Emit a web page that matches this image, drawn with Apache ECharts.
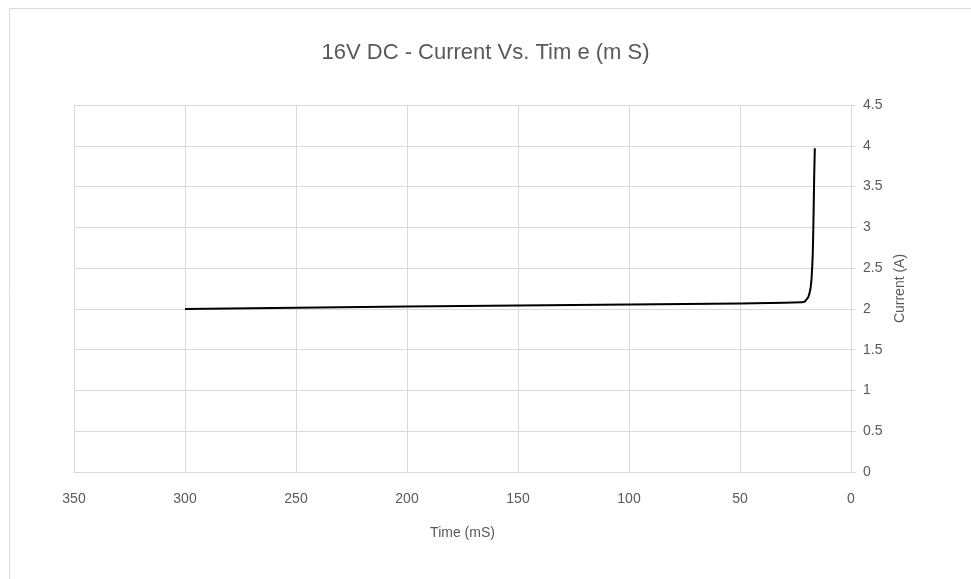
<!DOCTYPE html>
<html><head><meta charset="utf-8">
<script src="https://cdn.jsdelivr.net/npm/echarts@6/dist/echarts.min.js"></script>
<style>html,body{margin:0;padding:0;background:#fff}#c{width:971px;height:579px}</style>
</head><body><div id="c"></div>
<script>
const titleText = "16V DC - Current Vs. Tim e (m S)";
const xTitle = "Time (mS)";
const yTitle = "Current (A)";
const timeMs = [300, 200, 100, 50, 30, 22, 20.8, 20, 19.3, 18.7, 18.2, 17.8, 17.5, 17.2, 17, 16.8, 16.6, 16.3];
const currentA = [2.0, 2.03, 2.055, 2.065, 2.075, 2.08, 2.09, 2.11, 2.14, 2.19, 2.26, 2.36, 2.5, 2.7, 2.95, 3.25, 3.6, 3.97];

const FONT = "'Liberation Sans', Arial, sans-serif";
const chart = echarts.init(document.getElementById('c'), null, {renderer: 'canvas'});
chart.setOption({
  animation: false,
  backgroundColor: '#fff',
  graphic: [{type: 'rect', shape: {x: 9.5, y: 8.5, width: 1000, height: 700}, style: {fill: 'none', stroke: '#d9d9d9', lineWidth: 1}}],
  title: {text: titleText, left: 'center', top: 37, textStyle: {fontFamily: FONT, fontSize: 22, fontWeight: 'normal', color: '#595959'}},
  grid: {left: 74, right: 120, top: 105, bottom: 107},
  xAxis: {
    type: 'value', min: 0, max: 350, interval: 50, inverse: true,
    name: xTitle, nameLocation: 'middle', nameGap: 54,
    nameTextStyle: {fontFamily: FONT, fontSize: 14, color: '#595959'},
    axisLine: {show: true, lineStyle: {color: '#d9d9d9'}},
    axisTick: {show: false},
    axisLabel: {fontFamily: FONT, fontSize: 14, color: '#595959', margin: 20},
    splitLine: {show: true, lineStyle: {color: '#d9d9d9'}}
  },
  yAxis: {
    type: 'value', min: 0, max: 4.5, interval: 0.5, position: 'right',
    name: yTitle, nameLocation: 'middle', nameGap: 42, nameRotate: 90,
    nameTextStyle: {fontFamily: FONT, fontSize: 14, color: '#595959'},
    axisLine: {show: true, lineStyle: {color: '#d9d9d9'}},
    axisTick: {show: true, length: 5, lineStyle: {color: '#d9d9d9'}},
    axisLabel: {fontFamily: FONT, fontSize: 14, color: '#595959', margin: 12},
    splitLine: {show: true, lineStyle: {color: '#d9d9d9'}}
  },
  series: [{
    type: 'line', data: timeMs.map((t, i) => [t, currentA[i]]),
    showSymbol: false, smooth: false,
    lineStyle: {color: '#000', width: 2, join: 'round'}
  }]
});
</script></body></html>
